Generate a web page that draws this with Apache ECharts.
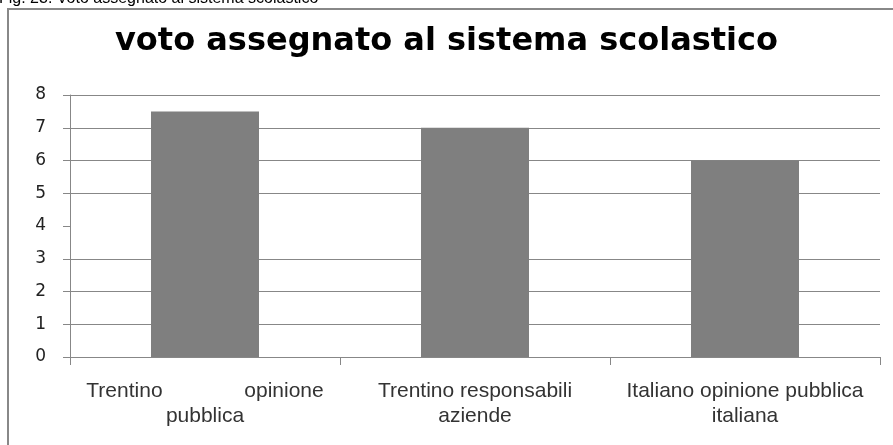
<!DOCTYPE html>
<html>
<head>
<meta charset="utf-8">
<title>voto assegnato al sistema scolastico</title>
<script src="https://cdn.jsdelivr.net/npm/echarts@6/dist/echarts.min.js"></script>
<style>
  html, body { margin: 0; padding: 0; background: #fff; }
  #main { width: 893px; height: 445px; }
</style>
</head>
<body>
<div id="main"></div>
<script>
// dati
const categories = [
  'Trentino              opinione\npubblica',
  'Trentino responsabili\naziende',
  'Italiano opinione pubblica\nitaliana'
];
const voti = [7.5, 7.0, 6.0];
const yTicks = [0, 1, 2, 3, 4, 5, 6, 7, 8];

const gridColor = '#878787';
// la linea del 4 non compare nell'originale
const splitColors = yTicks.map(v => (v === 4 ? 'rgba(0,0,0,0)' : gridColor));

const chart = echarts.init(document.getElementById('main'));

const option = {
  backgroundColor: '#fff',
  animation: false,
  title: {
    text: 'voto assegnato al sistema scolastico',
    left: 'center',
    top: 21,
    textStyle: {
      fontFamily: 'DejaVu Sans',
      fontWeight: 'bold',
      fontSize: 32,
      color: '#000'
    }
  },
  graphic: [
    {
      // didascalia tagliata in alto
      type: 'text',
      x: -1,
      y: -9,
      style: {
        text: 'Fig. 23: Voto assegnato al sistema scolastico',
        font: '16px "Liberation Sans"',
        fill: '#000'
      }
    },
    {
      type: 'polyline',
      shape: { points: [[8, 445], [8, 9], [893, 9]] },
      style: { stroke: '#888', lineWidth: 2, fill: null }
    }
  ],
  grid: {
    left: 70,
    right: 13,
    top: 95,
    bottom: 88
  },
  xAxis: {
    type: 'category',
    data: categories,
    axisLine: { show: true, lineStyle: { color: gridColor, width: 1 } },
    axisTick: { show: true, length: 8, lineStyle: { color: gridColor } },
    axisLabel: {
      interval: 0,
      margin: 22,
      fontFamily: 'Liberation Sans',
      fontSize: 21,
      lineHeight: 25,
      color: '#333'
    }
  },
  yAxis: {
    type: 'value',
    min: 0,
    max: 8,
    interval: 1,
    axisLine: { show: true, lineStyle: { color: gridColor, width: 1 } },
    axisTick: { show: true, length: 7, lineStyle: { color: gridColor } },
    axisLabel: {
      margin: 24,
      fontFamily: 'DejaVu Sans',
      fontSize: 17,
      color: '#222'
    },
    splitLine: { show: true, lineStyle: { color: splitColors, width: 1 } }
  },
  series: [
    {
      type: 'bar',
      data: voti,
      barWidth: '40%',
      itemStyle: { color: '#7f7f7f' }
    }
  ]
};

chart.setOption(option);
</script>
</body>
</html>
